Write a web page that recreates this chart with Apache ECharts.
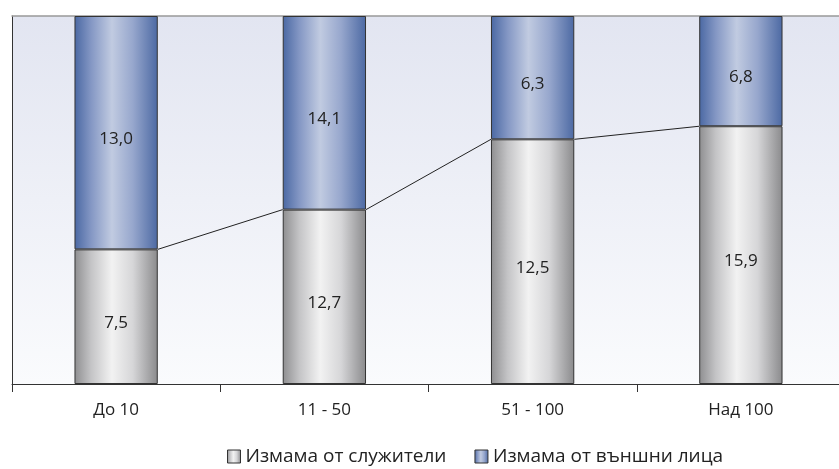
<!DOCTYPE html>
<html><head><meta charset="utf-8">
<script src="https://cdn.jsdelivr.net/npm/echarts@6/dist/echarts.min.js"></script>
<style>html,body{margin:0;padding:0;background:#fff;overflow:hidden}#c{width:845px;height:469px}</style>
</head><body><div id="c"></div>
<script>
const categories = ['До 10', '11 - 50', '51 - 100', 'Над 100'];
const employees = [7.5, 12.7, 12.5, 15.9];
const outsiders = [13.0, 14.1, 6.3, 6.8];
const seriesNames = ['Измама от служители', 'Измама от външни лица'];

const totals = employees.map((v, i) => v + outsiders[i]);
const empPct = employees.map((v, i) => v / totals[i] * 100);
const outPct = outsiders.map((v, i) => v / totals[i] * 100);

const FONT = 'Open Sans';
const grey = {type:'linear',x:0,y:0,x2:1,y2:0,colorStops:[
  {offset:0,color:'#8e8e90'},{offset:0.2,color:'#c4c4c6'},{offset:0.45,color:'#f2f2f2'},{offset:0.7,color:'#d6d6d8'},{offset:1,color:'#8a8a8c'}]};
const blue = {type:'linear',x:0,y:0,x2:1,y2:0,colorStops:[
  {offset:0,color:'#4a68a3'},{offset:0.2,color:'#8497c4'},{offset:0.45,color:'#c1cbe1'},{offset:0.7,color:'#97a7cd'},{offset:1,color:'#4c69a3'}]};
const fmt = v => v.toFixed(1).replace('.', ',');
const BW = 0.4;

const chart = echarts.init(document.getElementById('c'));
chart.setOption({
  animation: false,
  grid: {left: 12, right: 0, top: 16, bottom: 85, show: true, borderWidth: 0,
    backgroundColor: {type:'linear',x:0,y:0,x2:0,y2:1,colorStops:[{offset:0,color:'#e2e5f1'},{offset:1,color:'#fafbfd'}]}},
  legend: {left: 222, top: 442, itemWidth: 13, itemHeight: 13, itemGap: 28,
    textStyle: {fontFamily: FONT, fontSize: 19, color: '#222'},
    data: seriesNames.map(n => ({name: n, icon: 'rect', itemStyle: {borderColor: '#333', borderWidth: 1}}))},
  xAxis: [{type: 'category', data: categories, position: 'bottom',
    axisLine: {lineStyle: {color: '#333', width: 1}},
    axisTick: {show: true, length: 8, lineStyle: {color: '#333'}},
    axisLabel: {fontFamily: FONT, fontSize: 17, color: '#222', margin: 18}},
   {type: 'category', data: categories, position: 'top',
    axisLine: {lineStyle: {color: '#999', width: 1.5}}, axisTick: {show: false}, axisLabel: {show: false}}],
  yAxis: {type: 'value', min: 0, max: 100, axisLine: {show: true, lineStyle: {color: '#333'}},
    axisTick: {show: false}, axisLabel: {show: false}, splitLine: {show: false}},
  series: [
    {name: seriesNames[0], type: 'bar', stack: 's', barWidth: '40%', data: empPct,
      itemStyle: {color: grey, borderColor: '#333', borderWidth: 1},
      label: {show: true, position: 'inside', offset: [0, 6], fontFamily: FONT, fontSize: 17, color: '#222',
        formatter: p => fmt(employees[p.dataIndex])}},
    {name: seriesNames[1], type: 'bar', stack: 's', barWidth: '40%', data: outPct,
      itemStyle: {color: blue, borderColor: '#333', borderWidth: 1},
      label: {show: true, position: 'inside', offset: [0, 6], fontFamily: FONT, fontSize: 17, color: '#222',
        formatter: p => fmt(outsiders[p.dataIndex])}},
    {type: 'custom', data: empPct.map((v, i) => [i, v]), z: 5, silent: true,
      renderItem: (params, api) => {
        const i = api.value(0);
        if (i >= categories.length - 1) return null;
        const band = api.size([1, 0])[0];
        const a = api.coord([i, api.value(1)]);
        const b = api.coord([i + 1, empPct[i + 1]]);
        return {type: 'line', shape: {x1: a[0] + band * BW / 2, y1: a[1], x2: b[0] - band * BW / 2, y2: b[1]},
          style: {stroke: '#222', lineWidth: 1}};
      }}
  ]
});
</script></body></html>
